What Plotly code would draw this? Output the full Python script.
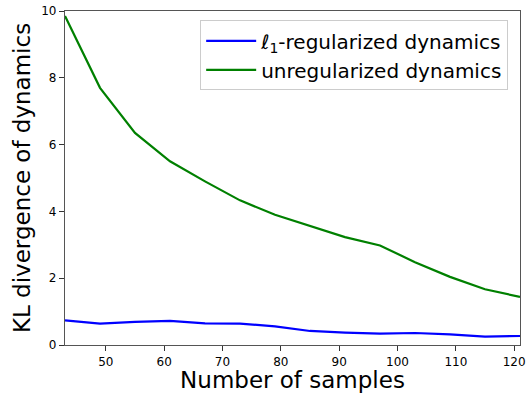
import plotly.graph_objects as go

samples = [43, 49, 55, 61, 67, 73, 79, 85, 91, 97, 103, 109, 115, 121]
kl_l1 = [0.74, 0.64, 0.69, 0.72, 0.65, 0.64, 0.56, 0.42, 0.37, 0.34, 0.36, 0.32, 0.25, 0.27]
kl_unreg = [9.85, 7.70, 6.35, 5.50, 4.90, 4.33, 3.90, 3.57, 3.23, 2.98, 2.48, 2.04, 1.67, 1.44]
x_ticks = [50, 60, 70, 80, 90, 100, 110, 120]
y_ticks = [0, 2, 4, 6, 8, 10]

fig = go.Figure()
fig.add_trace(go.Scatter(x=samples, y=kl_l1, mode="lines",
                         line=dict(color="#0000ff", width=2.2),
                         name="<i>ℓ</i><sub>1</sub>-regularized dynamics"))
fig.add_trace(go.Scatter(x=samples, y=kl_unreg, mode="lines",
                         line=dict(color="#008000", width=2.2),
                         name="unregularized dynamics"))

axis_common = dict(showline=True, linecolor="#555555", linewidth=1.2, mirror=True,
                   ticks="outside", ticklen=5, tickcolor="#333333", showgrid=False,
                   zeroline=False, ticklabeloverflow="allow",
                   tickfont=dict(family="DejaVu Sans", size=12, color="black"))

fig.update_layout(
    width=530, height=393,
    margin=dict(l=65, r=4, t=5, b=48),
    paper_bgcolor="white", plot_bgcolor="white",
    font=dict(family="DejaVu Sans", color="black"),
    xaxis=dict(range=[43, 121], tickvals=x_ticks,
               title=dict(text="Number of samples", font=dict(size=23), standoff=2),
               **axis_common),
    yaxis=dict(range=[0, 10], tickvals=y_ticks,
               title=dict(text="KL divergence of dynamics", font=dict(size=23), standoff=4),
               **axis_common),
    legend=dict(x=0.974, y=0.972, xanchor="right", yanchor="top",
                bgcolor="rgba(255,255,255,0.8)", bordercolor="#cccccc", borderwidth=1,
                font=dict(size=20), tracegroupgap=0, itemwidth=50),
    showlegend=True,
)

fig.write_html("out.html", config={"displayModeBar": False},
               post_script="document.body.style.margin='0';document.body.style.overflow='hidden';")
